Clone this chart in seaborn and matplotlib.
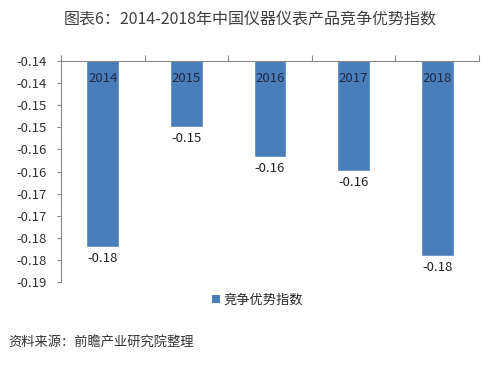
import matplotlib
matplotlib.use("Agg")
import matplotlib.pyplot as plt
import seaborn as sns
import pandas as pd

years = ["2014", "2015", "2016", "2017", "2018"]
values = [-0.1820, -0.1549, -0.1617, -0.1649, -0.1840]
value_labels = ["-0.18", "-0.15", "-0.16", "-0.16", "-0.18"]
y_ticks = [-0.140, -0.145, -0.150, -0.155, -0.160, -0.165, -0.170, -0.175, -0.180, -0.185, -0.190]
y_tick_labels = ["-0.14", "-0.14", "-0.15", "-0.15", "-0.16", "-0.16", "-0.17", "-0.17", "-0.18", "-0.18", "-0.19"]
series_name = "竞争优势指数"
title = "图表6：2014-2018年中国仪器仪表产品竞争优势指数"
source = "资料来源：前瞻产业研究院整理"

sns.set_theme(style="white")
plt.rcParams['font.family'] = ['Noto Sans CJK SC', 'DejaVu Sans']

df = pd.DataFrame({"year": years, "value": values, "series": series_name})

fig = plt.figure(figsize=(5, 3.65), dpi=100)
ax = fig.add_axes([0.122, 0.227, 0.836, 0.606])
bar_color = "#4A7EBB"
sns.barplot(data=df, x="year", y="value", hue="series", palette=[bar_color],
            width=0.39, ax=ax, legend=False, saturation=1)

ax.set_ylim(-0.19, -0.14)
ax.set_xlim(-0.5, 4.5)
ax.set_yticks(y_ticks)
ax.set_yticklabels(y_tick_labels, fontsize=9.5, color="#333333")
ax.set_xlabel("")
ax.set_ylabel("")

# x axis at top, ticks at category boundaries
ax.set_xticks([])
ax.xaxis.tick_top()
ax.set_xticks([i - 0.5 for i in range(len(years) + 1)], minor=True)
ax.tick_params(axis="x", which="minor", top=True, bottom=False, length=4,
               direction="out", color="#888888", width=0.8)
ax.tick_params(axis="y", left=True, length=3, direction="out", color="#888888", width=0.8, pad=7)

for s in ["bottom", "right"]:
    ax.spines[s].set_visible(False)
for s in ["top", "left"]:
    ax.spines[s].set_color("#888888")
    ax.spines[s].set_linewidth(0.8)

for i, (yr, v, lab) in enumerate(zip(years, values, value_labels)):
    ax.text(i, -0.1424, yr, ha="center", va="top", fontsize=9.5, color="#1F2A44")
    ax.text(i, v - 0.0012, lab, ha="center", va="top", fontsize=9.5, color="#222222")

# legend
from matplotlib.patches import Patch
handles = [Patch(facecolor=bar_color, edgecolor="none", label=series_name)]
fig.legend(handles=handles, loc="center", bbox_to_anchor=(0.515, 0.178), frameon=False,
           fontsize=9.5, handlelength=0.6, handleheight=0.6, handletextpad=0.3)

fig.text(0.5, 0.945, title, ha="center", va="center", fontsize=11.5, color="#404040")
fig.text(0.016, 0.063, source, ha="left", va="center", fontsize=9.5, color="#333333", style="italic")

fig.savefig("out.png", dpi=100)
